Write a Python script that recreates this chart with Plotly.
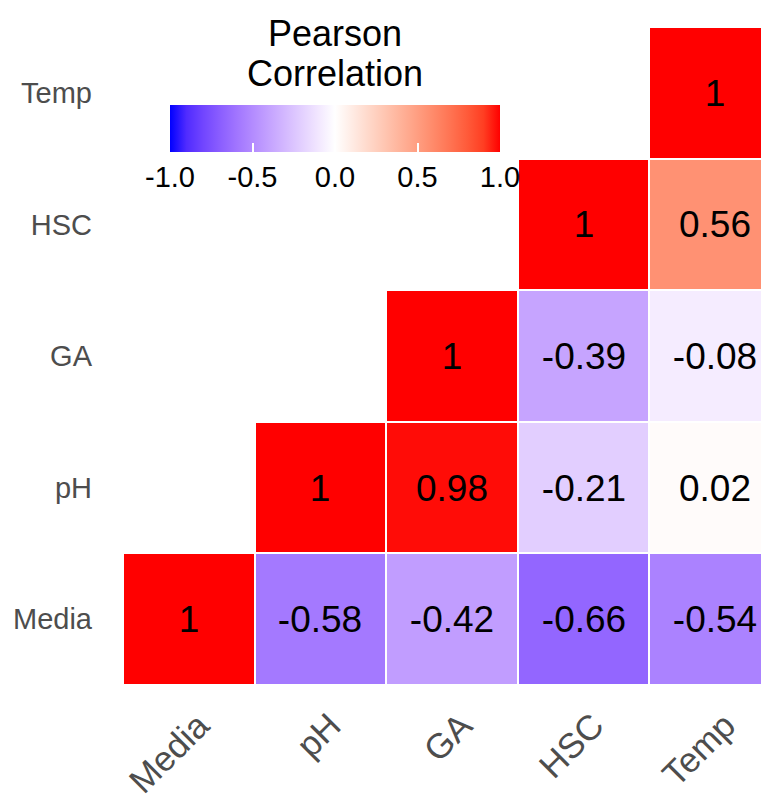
import plotly.graph_objects as go

# ---- data ----
variables = ["Media", "pH", "GA", "HSC", "Temp"]
row_media = [1.0, -0.58, -0.42, -0.66, -0.54]
row_ph = [None, 1.0, 0.98, -0.21, 0.02]
row_ga = [None, None, 1.0, -0.39, -0.08]
row_hsc = [None, None, None, 1.0, 0.56]
row_temp = [None, None, None, None, 1.0]
legend_ticks = [-1.0, -0.5, 0.0, 0.5, 1.0]
legend_ticktext = ["-1.0", "-0.5", "0.0", "0.5", "1.0"]
legend_title_lines = ["Pearson", "Correlation"]

z = [row_media, row_ph, row_ga, row_hsc, row_temp]


def fmt(v):
    if v is None:
        return ""
    return "1" if v == 1 else ("%g" % v)


text = [[fmt(v) for v in row] for row in z]


# ---- Lab-interpolated blue-white-red scale (like ggplot gradient2) ----
def srgb_to_lab(rgb):
    def lin(c):
        c = c / 255.0
        return c / 12.92 if c <= 0.04045 else ((c + 0.055) / 1.055) ** 2.4
    r, g, b = [lin(c) for c in rgb]
    X = 0.4124 * r + 0.3576 * g + 0.1805 * b
    Y = 0.2126 * r + 0.7152 * g + 0.0722 * b
    Z = 0.0193 * r + 0.1192 * g + 0.9505 * b
    Xn, Yn, Zn = 0.95047, 1.0, 1.08883

    def f(t):
        return t ** (1 / 3) if t > 216 / 24389 else (24389 / 27 * t + 16) / 116
    fx, fy, fz = f(X / Xn), f(Y / Yn), f(Z / Zn)
    return (116 * fy - 16, 500 * (fx - fy), 200 * (fy - fz))


def lab_to_srgb(lab):
    L, a, b = lab
    fy = (L + 16) / 116
    fx = fy + a / 500
    fz = fy - b / 200

    def finv(t):
        return t ** 3 if t ** 3 > 216 / 24389 else (116 * t - 16) / (24389 / 27)
    Xn, Yn, Zn = 0.95047, 1.0, 1.08883
    X, Y, Z = Xn * finv(fx), Yn * finv(fy), Zn * finv(fz)
    r = 3.2406 * X - 1.5372 * Y - 0.4986 * Z
    g = -0.9689 * X + 1.8758 * Y + 0.0415 * Z
    bb = 0.0557 * X - 0.2040 * Y + 1.0570 * Z

    def gam(c):
        c = max(0.0, min(1.0, c))
        return 12.92 * c if c <= 0.0031308 else 1.055 * c ** (1 / 2.4) - 0.055
    return tuple(int(round(gam(c) * 255)) for c in (r, g, bb))


low, mid, high = srgb_to_lab((0, 0, 255)), srgb_to_lab((255, 255, 255)), srgb_to_lab((255, 0, 0))
colorscale = []
n = 20
for i in range(n + 1):
    p = i / n
    v = -1 + 2 * p
    if v <= 0:
        t = -v
        lab = tuple(mid[k] + (low[k] - mid[k]) * t for k in range(3))
    else:
        t = v
        lab = tuple(mid[k] + (high[k] - mid[k]) * t for k in range(3))
    r, g, b = lab_to_srgb(lab)
    colorscale.append([p, "rgb(%d,%d,%d)" % (r, g, b)])

FONT = "Liberation Sans, Arial, sans-serif"
# page body has an 8px margin; figure sized to fit inside the window
OFF = 8
W, H = 769 - 2 * OFF, 811 - 2 * OFF
L_M, T_M, B_M = 123 - OFF, 27 - OFF, 811 - 685 - OFF
PH = H - T_M - B_M
PW = W - L_M
CELL = PH / 5.0
x_hi = -0.5 + PW / CELL


def px_x(px):
    return (px - OFF - L_M) / PW


def px_y(py):
    return (H - B_M - (py - OFF)) / PH


fig = go.Figure(
    go.Heatmap(
        x=variables,
        y=variables,
        z=z,
        text=text,
        texttemplate="%{text}",
        textfont=dict(family=FONT, size=37, color="black"),
        colorscale=colorscale,
        zmin=-1,
        zmax=1,
        xgap=2,
        ygap=2,
        hoverongaps=False,
        colorbar=dict(
            orientation="h",
            x=px_x(335),
            xanchor="center",
            y=px_y(105),
            yanchor="top",
            ypad=0,
            xpad=0,
            lenmode="pixels",
            len=330,
            thickness=47,
            outlinewidth=0,
            tickvals=legend_ticks,
            ticktext=legend_ticktext,
            ticks="inside",
            ticklen=9,
            tickwidth=2,
            tickcolor="white",
            tickfont=dict(family=FONT, size=29, color="black"),
        ),
    )
)

for i, line in enumerate(legend_title_lines):
    fig.add_annotation(
        text=line, xref="paper", yref="paper",
        x=px_x(335), y=px_y(34 + 39 * i),
        xanchor="center", yanchor="middle", showarrow=False,
        font=dict(family=FONT, size=36, color="black"),
    )

fig.update_layout(
    width=W,
    height=H,
    margin=dict(l=L_M, r=0, t=T_M, b=B_M, autoexpand=False),
    paper_bgcolor="white",
    plot_bgcolor="white",
    font=dict(family=FONT),
    xaxis=dict(
        range=[-0.5, x_hi],
        showgrid=False,
        zeroline=False,
        tickangle=-45,
        tickfont=dict(size=35, color="#4d4d4d"),
        ticks="",
        ticklabelstandoff=12,
        ticklabelshift=10,
    ),
    yaxis=dict(
        range=[-0.5, 4.5],
        showgrid=False,
        zeroline=False,
        tickfont=dict(size=29, color="#4d4d4d"),
        ticks="",
        ticklabelstandoff=30,
    ),
)

fig.write_html("out.html")
